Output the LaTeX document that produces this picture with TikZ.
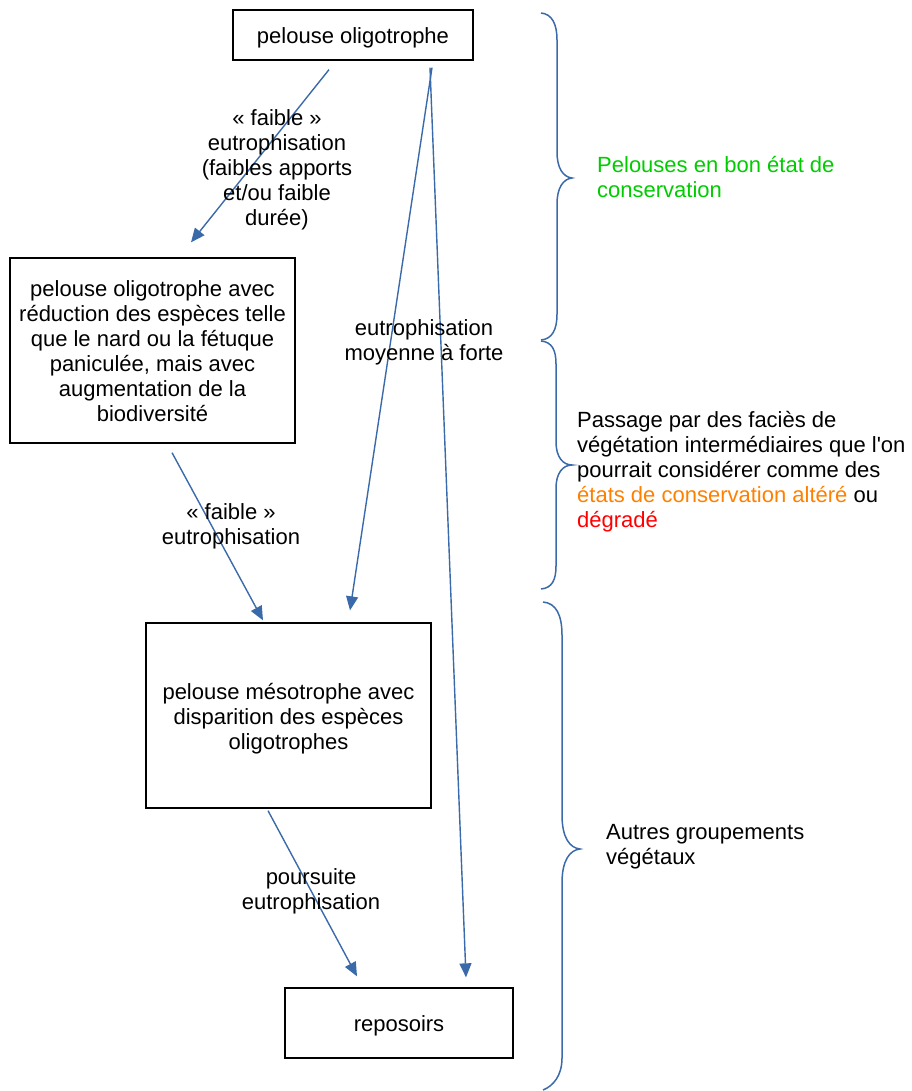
\documentclass[tikz,border=0pt]{standalone}
\usepackage{fontspec}
\setmainfont{Liberation Sans}
\usetikzlibrary{arrows.meta}
\definecolor{linkblue}{RGB}{59,106,170}
\definecolor{goodgreen}{RGB}{0,204,0}
\definecolor{altorange}{RGB}{255,128,0}
\definecolor{degred}{RGB}{255,0,0}
\tikzset{
  stage/.style={draw=black, line width=1.3pt, inner sep=0pt},
  stagetext/.style={align=center, inner sep=0pt, font=\fontsize{22}{25}\selectfont},
  lbl/.style={align=center, inner sep=0pt, font=\fontsize{22}{25}\selectfont},
  side/.style={align=left, inner sep=0pt, anchor=north west, font=\fontsize{22}{25}\selectfont},
  arr/.style={linkblue, line width=1.4pt, -{Triangle[length=14pt,width=12pt]}},
  bracepath/.style={linkblue, line width=1.5pt}
}
\begin{document}
\begin{tikzpicture}[x=1pt,y=-1pt]
\useasboundingbox (0,0) rectangle (911,1091);

% stages of the succession: frame plus centred text
\node[stage, minimum width=240pt, minimum height=50pt] (b1) at (353,35) {};
\node[stagetext] (b1t) at (353,38) {pelouse oligotrophe};
\node[stage, minimum width=285pt, minimum height=185pt] (b2) at (152.5,350.5) {};
\node[stagetext] (b2t) at (152.5,351.5)
  {pelouse oligotrophe avec\\réduction des espèces telle\\que le nard ou la fétuque\\paniculée, mais avec\\augmentation de la\\biodiversité};
\node[stage, minimum width=285pt, minimum height=185pt] (b3) at (288.5,715.5) {};
\node[stagetext] (b3t) at (288.5,718.5)
  {pelouse mésotrophe avec\\disparition des espèces\\oligotrophes};
\node[stage, minimum width=228pt, minimum height=70pt] (b4) at (399,1023) {};
\node[stagetext] (b4t) at (399,1026) {reposoirs};

% transitions
\draw[arr] ([shift={(-24,9)}]b1.south) -- ([shift={(38.5,-15)}]b2.north);
\draw[arr] ([shift={(79,7)}]b1.south) -- ([shift={(61.5,-12)}]b3.north);
\draw[arr] ([shift={(77,7)}]b1.south) -- ([shift={(67,-10)}]b4.north);
\draw[arr] ([shift={(19.5,9)}]b2.south) -- ([shift={(-25.5,-2)}]b3.north);
\draw[arr] ([shift={(-20.5,2)}]b3.south) -- ([shift={(-42,-11)}]b4.north);

% transition labels
\node[lbl] (l1) at (277,170) {« faible »\\eutrophisation\\(faibles apports\\et/ou faible\\durée)};
\node[lbl] (l2) at (424,342) {eutrophisation\\moyenne à forte};
\node[lbl] (l3) at (231,526) {« faible »\\eutrophisation};
\node[lbl] (l4) at (311,891) {poursuite\\eutrophisation};

% braces grouping the conservation states
\draw[bracepath] (541,13) .. controls (552,14) and (557,24) .. (557,40)
  -- (557,152) .. controls (557,168) and (563,177) .. (572,178)
  .. controls (563,179) and (557,188) .. (557,204)
  -- (557,314) .. controls (557,330) and (552,339) .. (541,340);
\draw[bracepath] (541,341) .. controls (552,342) and (556,350) .. (556,364)
  -- (556,442) .. controls (556,457) and (563,465) .. (572,465)
  .. controls (563,465) and (556,473) .. (556,488)
  -- (556,566) .. controls (556,580) and (552,588) .. (541,589);
\draw[bracepath] (543,602) .. controls (556,603) and (562,615) .. (562,635)
  -- (562,815) .. controls (562,838) and (570,848) .. (580,849)
  .. controls (570,850) and (562,860) .. (562,883)
  -- (562,1058) .. controls (562,1076) and (553,1086) .. (543,1090);

% group captions
\node[side, text=goodgreen] (g1) at (597,156) {Pelouses en bon état de\\conservation};
\node[side] (g2) at (577,411) {Passage par des faciès de\\végétation intermédiaires que l\textquotesingle on\\pourrait considérer comme des\\{\color{altorange}états de conservation altéré} ou\\{\color{degred}dégradé}};
\node[side] (g3) at (606,824) {Autres groupements\\végétaux};
\end{tikzpicture}
\end{document}
